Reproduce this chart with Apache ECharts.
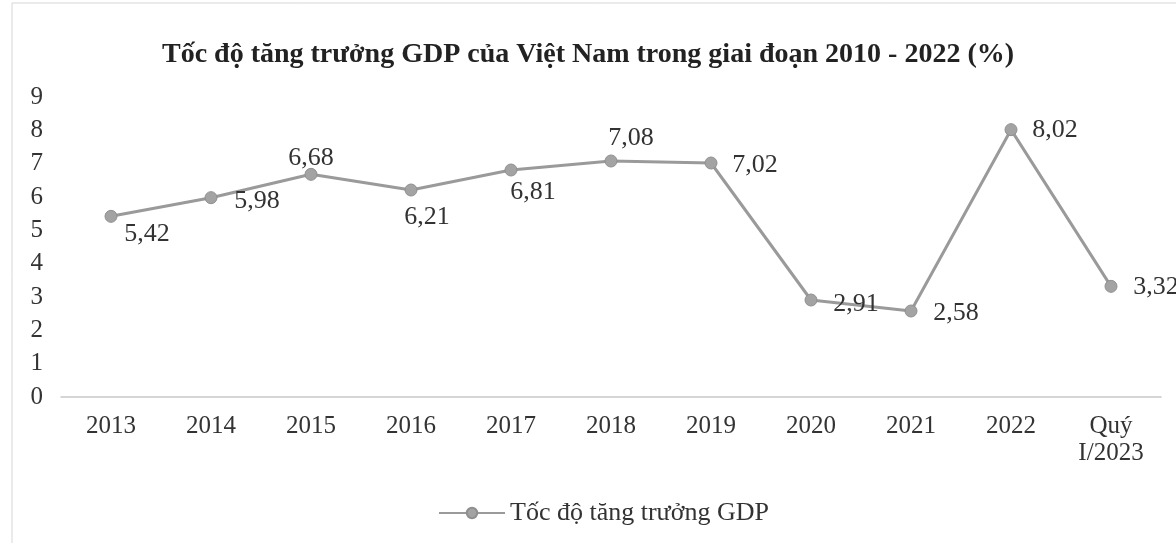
<!DOCTYPE html>
<html>
<head>
<meta charset="utf-8">
<script src="https://cdn.jsdelivr.net/npm/echarts@6/dist/echarts.min.js"></script>
<style>
  html, body { margin: 0; padding: 0; background: #fff; }
  #chart { width: 1176px; height: 543px; }
</style>
</head>
<body>
<div id="chart"></div>
<script>
  // du lieu
  var categories = ['2013', '2014', '2015', '2016', '2017', '2018', '2019', '2020', '2021', '2022', 'Quý\nI/2023'];
  var gdpGrowth = [5.42, 5.98, 6.68, 6.21, 6.81, 7.08, 7.02, 2.91, 2.58, 8.02, 3.32];
  var yTicks = [0, 1, 2, 3, 4, 5, 6, 7, 8, 9];
  var seriesName = 'Tốc độ tăng trưởng GDP';

  // vi tri nhan (dx, dy) tuong doi voi diem
  var labelOffsets = [[36, 18], [46, 4], [0, -16], [16, 27], [22, 22], [20, -23], [44, 2], [45, 4], [45, 2], [44, 1], [45, 1]];

  var serif = '"Liberation Serif", "DejaVu Serif", serif';
  var myChart = echarts.init(document.getElementById('chart'));

  myChart.setOption({
    animation: false,
    title: {
      text: 'Tốc độ tăng trưởng GDP của Việt Nam trong giai đoạn 2010 - 2022 (%)',
      left: 'center',
      top: 36,
      textStyle: { fontFamily: serif, fontSize: 28, fontWeight: 'bold', color: '#222' }
    },
    graphic: [{
      type: 'rect',
      shape: { x: 12, y: 3, width: 1200, height: 560 },
      style: { fill: 'none', stroke: '#d6d6d6', lineWidth: 1 },
      silent: true
    }],
    legend: {
      bottom: 12,
      left: 433,
      itemWidth: 66,
      itemHeight: 13,
      itemGap: 10,
      textStyle: { fontFamily: serif, fontSize: 26, color: '#333' },
      data: [seriesName]
    },
    grid: { left: 61, right: 15, top: 97, bottom: 146 },
    xAxis: {
      type: 'category',
      data: categories,
      boundaryGap: true,
      axisLine: { lineStyle: { color: '#c8c8c8', width: 1.5 } },
      axisTick: { show: false },
      axisLabel: { fontFamily: serif, fontSize: 25, color: '#333', margin: 16, lineHeight: 27 }
    },
    yAxis: {
      type: 'value',
      min: yTicks[0],
      max: yTicks[yTicks.length - 1],
      interval: 1,
      axisLine: { show: false },
      axisTick: { show: false },
      splitLine: { show: false },
      axisLabel: { fontFamily: serif, fontSize: 25, color: '#333', margin: 18 }
    },
    series: [{
      name: seriesName,
      type: 'line',
      data: gdpGrowth,
      symbol: 'circle',
      symbolSize: 12,
      lineStyle: { color: '#9a9a9a', width: 3 },
      itemStyle: { color: '#a3a3a3', borderColor: '#8f8f8f', borderWidth: 1 },
      label: {
        show: true,
        position: 'inside',
        fontFamily: serif,
        fontSize: 26,
        color: '#333',
        formatter: function (p) { return p.value.toFixed(2).replace('.', ','); }
      },
      labelLayout: function (p) {
        var o = labelOffsets[p.dataIndex];
        return { dx: o[0], dy: o[1] };
      }
    }]
  });
</script>
</body>
</html>
